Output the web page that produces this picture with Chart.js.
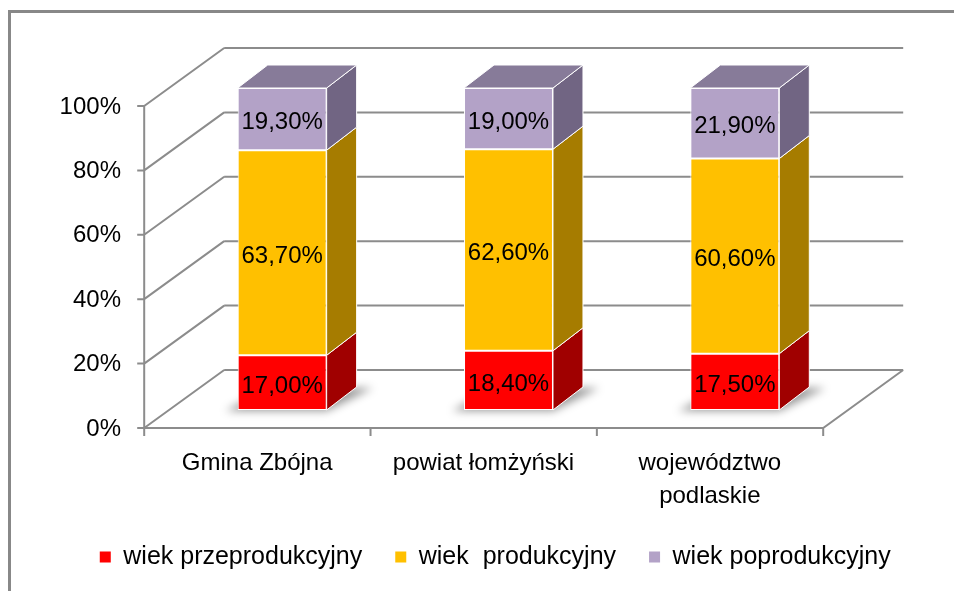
<!DOCTYPE html>
<html lang="pl">
<head>
<meta charset="utf-8">
<title>Struktura wieku ludności</title>
<script src="https://cdn.jsdelivr.net/npm/chart.js@4.4.1/dist/chart.umd.min.js"></script>
<style>
  html, body { margin: 0; padding: 0; background: #fff; }
  canvas { display: block; }
</style>
</head>
<body>
<canvas id="myChart" width="954" height="591"></canvas>
<script>
// dane z wykresu
const categories = ['Gmina Zbójna', 'powiat łomżyński', ['województwo', 'podlaskie']];
const seriesNames = ['wiek przeprodukcyjny', 'wiek  produkcyjny', 'wiek poprodukcyjny'];
const przedprodukcyjny = [17.0, 18.4, 17.5];
const produkcyjny = [63.7, 62.6, 60.6];
const poprodukcyjny = [19.3, 19.0, 21.9];
const yTicks = [0, 20, 40, 60, 80, 100];

// kolory: przód, bok, góra
const frontColors = ['#FF0000', '#FFC000', '#B3A2C7'];
const sideColors = ['#A00000', '#A67C00', '#716583'];
const topColor = '#877B99';

const FONT = '"Liberation Sans", Arial, sans-serif';
Chart.defaults.font.family = FONT;
Chart.defaults.color = '#000';

const fmt = v => v.toFixed(2).replace('.', ',') + '%';

// glebokosc slupka i scian (px)
const BAR_DX = 30, BAR_DY = -23;
const WALL_DX = 80, WALL_DY = -58, BAR_Z = 0.31;

const frame3d = {
  id: 'frame3d',
  beforeDraw(chart) {
    const ctx = chart.ctx;
    ctx.save();
    ctx.strokeStyle = '#888';
    ctx.lineWidth = 3;
    ctx.beginPath();
    ctx.moveTo(9.5, chart.height);
    ctx.lineTo(9.5, 11.5);
    ctx.lineTo(chart.width, 11.5);
    ctx.stroke();
    ctx.restore();
  },
  beforeDatasetsDraw(chart) {
    const ctx = chart.ctx;
    const xs = chart.scales.x, ys = chart.scales.y;
    const fL = chart.chartArea.left - BAR_Z * WALL_DX;
    const fR = chart.chartArea.right - BAR_Z * WALL_DX;
    const fy = v => ys.getPixelForValue(v) - BAR_Z * WALL_DY;
    const by = v => fy(v) + WALL_DY;
    const bL = fL + WALL_DX, bR = fR + WALL_DX;

    ctx.save();
    ctx.strokeStyle = '#8c8c8c';
    ctx.lineWidth = 2;
    ctx.beginPath();
    yTicks.forEach(v => {
      ctx.moveTo(bL, by(v)); ctx.lineTo(bR, by(v));
      ctx.moveTo(fL, fy(v)); ctx.lineTo(bL, by(v));
      ctx.moveTo(fL - 7, fy(v)); ctx.lineTo(fL, fy(v));
    });
    ctx.moveTo(fL, fy(0)); ctx.lineTo(fL, fy(100));
    ctx.moveTo(fL, fy(0)); ctx.lineTo(fR, fy(0)); ctx.lineTo(bR, by(0));
    for (let k = 0; k <= categories.length; k++) {
      const x = xs.getPixelForValue(k - 0.5) - BAR_Z * WALL_DX;
      ctx.moveTo(x, fy(0)); ctx.lineTo(x, fy(0) + 8);
    }
    ctx.stroke();

    // cien pod slupkami
    const meta = chart.getDatasetMeta(0);
    ctx.fillStyle = 'rgba(0,0,0,0.4)';
    ctx.filter = 'blur(4px)';
    meta.data.forEach(bar => {
      const {x, width, base} = bar.getProps(['x', 'width', 'base'], true);
      const l = x - width / 2, r = x + width / 2;
      ctx.beginPath();
      ctx.moveTo(l - 12, base + 1);
      ctx.lineTo(r, base + 1);
      ctx.lineTo(r + BAR_DX + 16, base + BAR_DY + 1);
      ctx.lineTo(l + BAR_DX, base + BAR_DY + 1);
      ctx.closePath();
      ctx.fill();
    });
    ctx.restore();
  },
  afterDatasetsDraw(chart) {
    const ctx = chart.ctx;
    const last = chart.data.datasets.length - 1;
    ctx.save();
    ctx.strokeStyle = '#fff';
    ctx.lineWidth = 1;
    chart.data.datasets.forEach((ds, i) => {
      chart.getDatasetMeta(i).data.forEach((bar, j) => {
        const {x, y, base, width} = bar.getProps(['x', 'y', 'base', 'width'], true);
        const l = x - width / 2, r = x + width / 2;
        const top = Math.min(y, base), bot = Math.max(y, base);
        ctx.fillStyle = sideColors[i];
        ctx.beginPath();
        ctx.moveTo(r, top);
        ctx.lineTo(r + BAR_DX, top + BAR_DY);
        ctx.lineTo(r + BAR_DX, bot + BAR_DY);
        ctx.lineTo(r, bot);
        ctx.closePath();
        ctx.fill();
        ctx.stroke();
        if (i === last) {
          ctx.fillStyle = topColor;
          ctx.beginPath();
          ctx.moveTo(l, top);
          ctx.lineTo(l + BAR_DX, top + BAR_DY);
          ctx.lineTo(r + BAR_DX, top + BAR_DY);
          ctx.lineTo(r, top);
          ctx.closePath();
          ctx.fill();
          ctx.stroke();
        }
        // etykieta wartosci
        ctx.fillStyle = '#000';
        ctx.font = '24px ' + FONT;
        ctx.textAlign = 'center';
        ctx.textBaseline = 'middle';
        ctx.fillText(fmt(ds.data[j]), x, (top + bot) / 2 + 3.5);
      });
    });
    ctx.restore();
  }
};

const grafico = document.querySelector('#myChart');

const data = {
  labels: categories,
  datasets: [
    { label: seriesNames[0], data: przedprodukcyjny, backgroundColor: frontColors[0] },
    { label: seriesNames[1], data: produkcyjny, backgroundColor: frontColors[1] },
    { label: seriesNames[2], data: poprodukcyjny, backgroundColor: frontColors[2] }
  ].map(d => ({ ...d, borderColor: '#fff', borderWidth: 1, borderSkipped: false,
                categoryPercentage: 1, barPercentage: 0.393 }))
};

const config = {
  type: 'bar',
  data: data,
  options: {
    responsive: false,
    animation: false,
    layout: { padding: { left: 50, right: 13.5, top: 88, bottom: 11.5 } },
    plugins: {
      tooltip: { enabled: false },
      legend: {
        position: 'bottom',
        labels: {
          boxWidth: 11,
          boxHeight: 11,
          padding: 33,
          color: '#000',
          font: { size: 25 },
          generateLabels: chart => Chart.defaults.plugins.legend.labels.generateLabels(chart)
            .map(l => ({ ...l, lineWidth: 0 }))
        }
      }
    },
    scales: {
      x: {
        stacked: true,
        grid: { display: false, drawTicks: false },
        border: { display: false },
        ticks: { labelOffset: -25, padding: 36.5, font: { size: 24, lineHeight: 1.375 }, maxRotation: 0, autoSkip: false },
        afterFit: s => { s.height = 101.5; }
      },
      y: {
        stacked: true,
        min: 0,
        max: 100,
        grid: { display: false, drawTicks: false },
        border: { display: false },
        ticks: { labelOffset: 19, padding: 48, font: { size: 24 }, callback: v => v + '%' },
        afterBuildTicks: s => { s.ticks = yTicks.map(v => ({ value: v })); },
        afterFit: s => { s.width = 119; }
      },
      pad: {
        type: 'linear',
        position: 'right',
        grid: { display: false, drawTicks: false },
        border: { display: false },
        ticks: { display: false },
        afterFit: s => { s.width = 92.5; }
      }
    }
  },
  plugins: [frame3d]
};

new Chart(grafico, config);
</script>
</body>
</html>
